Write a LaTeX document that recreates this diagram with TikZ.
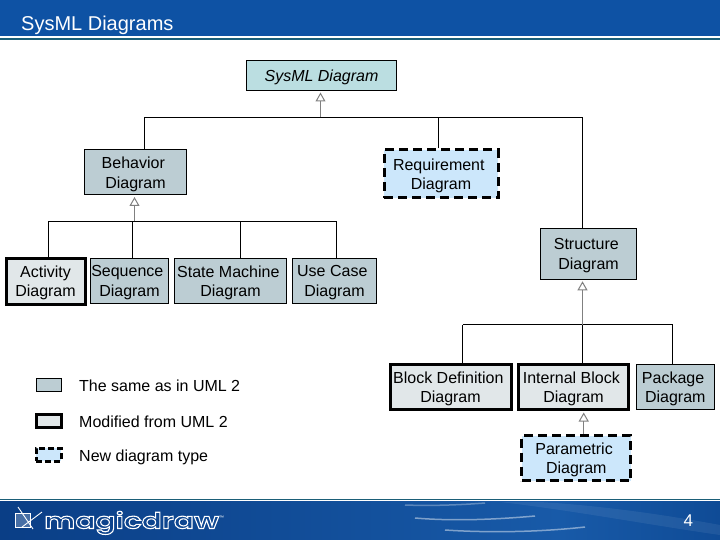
\documentclass[tikz,border=0pt]{standalone}
\usepackage{fontspec}
\setmainfont{Liberation Sans}
\newfontfamily\logofont[FakeStretch=1.35]{Poppins SemiBold}
\usetikzlibrary{arrows.meta}
\definecolor{bandblue}{HTML}{0E52A4}
\definecolor{footleft}{HTML}{0A3E86}
\definecolor{footmid}{HTML}{185AA8}
\definecolor{footright}{HTML}{0F4B96}
\definecolor{ruleteal}{HTML}{1B5F78}
\definecolor{rootfill}{HTML}{BBDEE1}
\definecolor{samefill}{HTML}{BCCDD3}
\definecolor{modfill}{HTML}{E1E7E9}
\definecolor{newfill}{HTML}{CCE7FB}
\newcommand{\gapr}{\kern4.4pt}
\tikzset{
	diagbox/.style={draw=black, line width=1pt, rectangle, inner sep=0pt, align=center, text depth=0pt, font=\fontsize{16}{19.5}\selectfont},
	same/.style={diagbox, fill=samefill},
	modified/.style={diagbox, fill=modfill, line width=3pt},
	newtype/.style={diagbox, fill=newfill, line width=3pt, dash pattern=on 9pt off 5pt},
	legendtext/.style={inner sep=0pt, anchor=base west, font=\fontsize{16}{19.5}\selectfont},
	treeline/.style={draw=black, line width=1pt},
	isa/.style={draw=gray, line width=1pt, -{Triangle[open, length=9pt, width=10pt]}, shorten >=1.5pt},
}
\begin{document}
\begin{tikzpicture}[x=1pt, y=-1pt]
	\useasboundingbox (0,0) rectangle (720,540);
	% header and footer
	\fill[bandblue] (0,0) rectangle (720,36.5);
	\fill[ruleteal] (0,38.5) rectangle (720,40);
	\fill[ruleteal] (0,498.5) rectangle (720,500);
	\shade[left color=footleft, right color=footmid] (0,501.5) rectangle (560,540);
	\shade[left color=footmid, right color=footright] (560,501.5) rectangle (720,540);
	\draw[white, opacity=0.3, line width=1.5pt] (405,505) .. controls (430,506) and (460,505) .. (485,503);
	\draw[white, opacity=0.45, line width=1.5pt] (415,518) .. controls (450,521) and (490,520) .. (535,516);
	\draw[white, opacity=0.45, line width=1.5pt] (445,530) .. controls (490,533) and (540,532) .. (585,527);
	\fill[white, opacity=0.07] (500,502) .. controls (570,510) and (650,525) .. (720,535) -- (720,525) .. controls (650,512) and (590,505) .. (540,502) -- cycle;
	\draw[white, fill=white, fill opacity=0.25, line width=0.9pt] (15,513) rectangle (30,527);
	\draw[white, line width=0.9pt] (18,507) -- (33,529) (42,512) -- (22,527);
	\node[white, legendtext, font=\fontsize{20}{24}\selectfont] (title) at (21,31) {SysML Diagrams};
	\node[white, inner sep=0pt, font=\fontsize{17}{19}\selectfont] (pagenum) at (688.3,521) {4};
	\node[white, inner sep=0pt, anchor=base west, font=\logofont\fontsize{22}{24}\selectfont] (logo) at (44,528.5) {\special{pdf:code 1 Tr 1.1 w}magicdraw\special{pdf:code 0 Tr}\raisebox{9pt}{\rmfamily\fontsize{5}{5}\selectfont ™}};
	% the boxes
	\node[diagbox, fill=rootfill, minimum width=150pt, minimum height=30pt, font=\fontsize{16}{19.5}\selectfont\itshape] (sysml) at (321.5,75.5) {SysML Diagram};
	\node[same, minimum width=102pt, minimum height=45pt] (behavior) at (135.5,172.5) {Behavior\gapr\\Diagram};
	\node[newtype, minimum width=114pt, minimum height=48pt] (requirement) at (441,174) {Requirement\gapr\\Diagram};
	\node[same, minimum width=96pt, minimum height=51pt] (structure) at (588.5,253.8) {Structure\gapr\\Diagram};
	\node[modified, minimum width=79pt, minimum height=46pt] (activity) at (45.5,281) {Activity\\Diagram};
	\node[same, minimum width=78pt, minimum height=45pt] (sequence) at (129.5,281) {Sequence\gapr\\Diagram};
	\node[same, minimum width=112pt, minimum height=45pt] (statemachine) at (230.5,281) {State Machine\gapr\\Diagram};
	\node[same, minimum width=84pt, minimum height=45pt] (usecase) at (334.5,281) {Use Case\gapr\\Diagram};
	\node[modified, minimum width=121pt, minimum height=45pt] (blockdef) at (450.5,387) {Block Definition\gapr\\Diagram};
	\node[modified, minimum width=110pt, minimum height=45pt] (internal) at (573.5,387) {Internal Block\gapr\\Diagram};
	\node[same, minimum width=78pt, minimum height=45pt] (package) at (675.3,387) {Package\gapr\\Diagram};
	\node[newtype, minimum width=109pt, minimum height=45pt] (parametric) at (576.3,458) {Parametric\gapr\\Diagram};
	% legend
	\node[same, minimum width=25pt, minimum height=13pt] (keysame) at (48.5,384.5) {};
	\node[modified, minimum width=25pt, minimum height=13pt] (keymod) at (48.5,420.5) {};
	\node[newtype, minimum width=25pt, minimum height=13pt, dash pattern=on 6pt off 3pt] (keynew) at (48.5,454.5) {};
	\node[legendtext] (textsame) at (79,391) {The same as in UML 2};
	\node[legendtext] (textmod) at (79,427) {Modified from UML 2};
	\node[legendtext] (textnew) at (79,461) {New diagram type};
	% junctions of the trees
	\coordinate (ja) at (144.5,117.5);
	\coordinate (jb) at (320.5,117.5);
	\coordinate (jc) at (438,117.5);
	\coordinate (jd) at (582.5,117.5);
	\coordinate (je) at (48.5,221.5);
	\coordinate (jf) at (132.5,221.5);
	\coordinate (jg) at (240.5,221.5);
	\coordinate (jh) at (336.5,221.5);
	\coordinate (jn) at (134.5,221.5);
	\coordinate (ji) at (462.5,324.5);
	\coordinate (jj) at (582.5,324.5);
	\coordinate (jk) at (672.5,324.5);
	\coordinate (jp) at (583.7,420);
	\path[treeline] (ja) edge (jd);
	\path[treeline] (behavior.north -| ja) edge (ja);
	\path[treeline] (requirement.north -| jc) edge (jc);
	\path[treeline] (structure.north -| jd) edge (jd);
	\path[treeline] (je) edge (jh);
	\path[treeline] (activity.north -| je) edge (je);
	\path[treeline] (sequence.north -| jf) edge (jf);
	\path[treeline] (statemachine.north -| jg) edge (jg);
	\path[treeline] (usecase.north -| jh) edge (jh);
	\path[treeline] (ji) edge (jk);
	\path[treeline] (blockdef.north -| ji) edge (ji);
	\path[treeline] (internal.north -| jj) edge (jj);
	\path[treeline] (package.north -| jk) edge (jk);
	\draw[isa] (jb) -- (sysml.south -| jb);
	\draw[isa] (jn) -- (behavior.south -| jn);
	\draw[isa] (jj) -- (structure.south -| jj);
	\draw[isa] (parametric.north -| jp) -- (internal.south -| jp);
\end{tikzpicture}
\end{document}
